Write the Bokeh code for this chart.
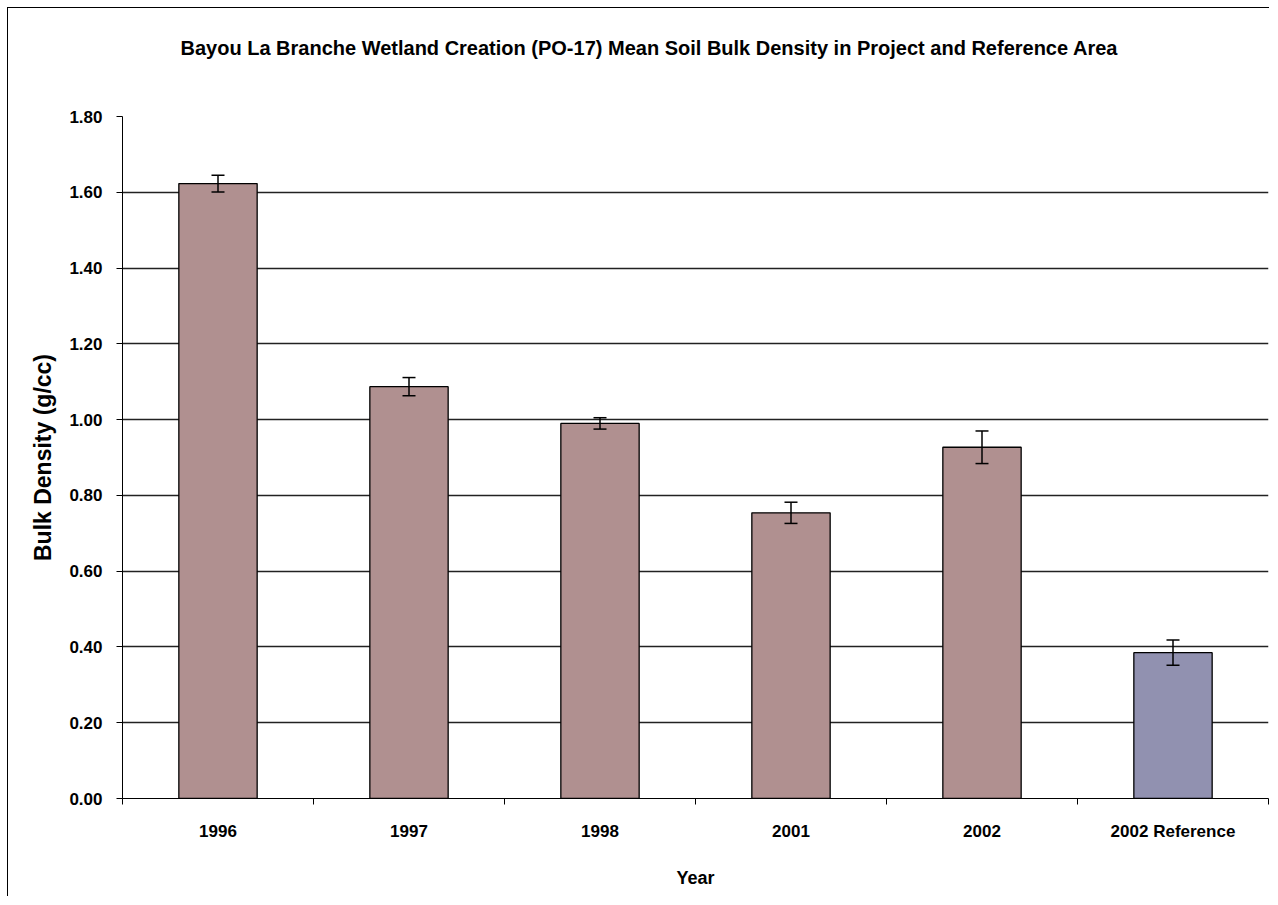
from bokeh.plotting import figure
from bokeh.models import ColumnDataSource, Whisker, FixedTicker, Range1d, TeeHead, NumeralTickFormatter, Title
from bokeh.embed import file_html
from bokeh.resources import INLINE

categories = ["1996", "1997", "1998", "2001", "2002", "2002 Reference"]
means = [1.623, 1.087, 0.99, 0.754, 0.927, 0.385]
errors = [0.022, 0.024, 0.015, 0.028, 0.043, 0.033]
colors = ["#B09090", "#B09090", "#B09090", "#B09090", "#B09090", "#9191B0"]
y_ticks = [0.0, 0.2, 0.4, 0.6, 0.8, 1.0, 1.2, 1.4, 1.6, 1.8]

xs = [i + 0.5 for i in range(len(categories))]
src = ColumnDataSource(dict(
    x=xs, top=means, color=colors,
    upper=[m + e for m, e in zip(means, errors)],
    lower=[m - e for m, e in zip(means, errors)],
))

FONT = "Liberation Sans"

p = figure(width=1262, height=889, output_backend="svg", toolbar_location=None,
           x_range=Range1d(0, len(categories)), y_range=Range1d(0, 1.8),
           min_border_left=114, min_border_right=2, min_border_top=108, min_border_bottom=99)
p.styles = {"margin-left": "7px", "margin-top": "7px",
            "border-left": "1px solid black", "border-top": "1px solid black"}

p.title.text = "Bayou La Branche Wetland Creation (PO-17) Mean Soil Bulk Density in Project and Reference Area"
p.title.text_font = FONT
p.title.text_font_size = "20px"
p.title.text_font_style = "bold"
p.title.text_color = "black"
p.title.align = "left"
p.title.offset = 58
p.title.standoff = 10

# spacer between title and plotting area
p.add_layout(Title(text=" ", text_font_size="10px", standoff=40), "above")

p.outline_line_color = None
p.background_fill_color = "white"

p.vbar(x="x", top="top", width=0.41, bottom=0, source=src, fill_color="color",
       line_color="black", line_width=1.3)

w = Whisker(base="x", upper="upper", lower="lower", source=src, line_color="black", line_width=1.5,
            upper_head=TeeHead(size=13, line_color="black", line_width=1.5),
            lower_head=TeeHead(size=13, line_color="black", line_width=1.5))
w.level = "overlay"
p.add_layout(w)

# y axis
p.yaxis.ticker = FixedTicker(ticks=y_ticks, minor_ticks=[])
p.yaxis.formatter = NumeralTickFormatter(format="0.00")
p.yaxis.axis_label = "Bulk Density (g/cc)"
p.yaxis.axis_label_text_font = FONT
p.yaxis.axis_label_text_font_style = "bold"
p.yaxis.axis_label_text_font_size = "23px"
p.yaxis.axis_label_text_color = "black"
p.yaxis.axis_label_standoff = 10
p.yaxis.major_label_text_font = FONT
p.yaxis.major_label_text_font_style = "bold"
p.yaxis.major_label_text_font_size = "17px"
p.yaxis.major_label_text_color = "black"
p.yaxis.major_label_standoff = 14
p.yaxis.major_tick_in = 0
p.yaxis.major_tick_out = 6
p.yaxis.axis_line_color = "black"
p.yaxis.major_tick_line_color = "black"

# x axis: labels at centers, ticks at boundaries
p.xaxis.ticker = FixedTicker(ticks=xs, minor_ticks=list(range(len(categories) + 1)))
p.xaxis.major_label_overrides = {x: c for x, c in zip(xs, categories)}
p.xaxis.major_tick_line_color = None
p.xaxis.minor_tick_in = 0
p.xaxis.minor_tick_out = 6
p.xaxis.minor_tick_line_color = "black"
p.xaxis.axis_line_color = "black"
p.xaxis.major_label_text_font = FONT
p.xaxis.major_label_text_font_style = "bold"
p.xaxis.major_label_text_font_size = "17px"
p.xaxis.major_label_text_color = "black"
p.xaxis.major_label_standoff = 17
p.xaxis.axis_label = "Year"
p.xaxis.axis_label_text_font = FONT
p.xaxis.axis_label_text_font_style = "bold"
p.xaxis.axis_label_text_font_size = "18px"
p.xaxis.axis_label_text_color = "black"
p.xaxis.axis_label_standoff = 24

p.xgrid.grid_line_color = None
p.ygrid.ticker = FixedTicker(ticks=y_ticks)
p.ygrid.grid_line_color = "#222222"
p.ygrid.grid_line_width = 1.3

open("out.html", "w").write(file_html(p, INLINE))
